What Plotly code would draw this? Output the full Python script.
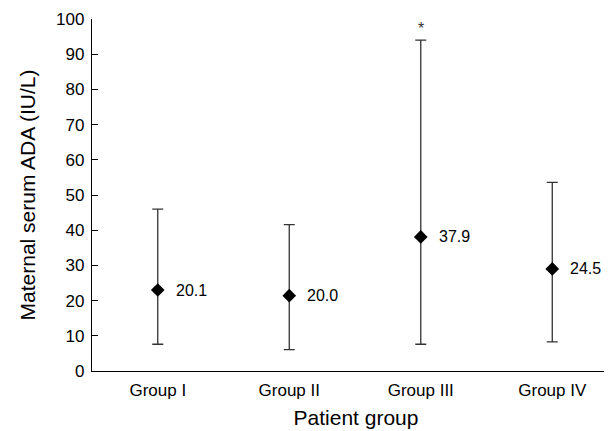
import plotly.graph_objects as go

groups = ["Group I", "Group II", "Group III", "Group IV"]
point_values = [23.0, 21.4, 38.1, 29.0]
upper_values = [46.0, 41.6, 94.0, 53.6]
lower_values = [7.6, 6.1, 7.6, 8.3]
value_labels = ["20.1", "20.0", "37.9", "24.5"]
star_group = "Group III"
star_value = 97.2
y_ticks = [0, 10, 20, 30, 40, 50, 60, 70, 80, 90, 100]

FONT = "Liberation Sans, Arial, sans-serif"

fig = go.Figure()
fig.add_trace(go.Scatter(
    x=groups, y=point_values, mode="markers",
    marker=dict(symbol="diamond", size=10.5, color="black"),
    error_y=dict(type="data", symmetric=False,
                 array=[u - p for u, p in zip(upper_values, point_values)],
                 arrayminus=[p - l for p, l in zip(point_values, lower_values)],
                 color="#333333", thickness=1.3, width=5.5),
    showlegend=False, hoverinfo="skip",
))
for g, p, t in zip(groups, point_values, value_labels):
    fig.add_annotation(x=g, y=p, text=t, showarrow=False, xanchor="left",
                       yanchor="middle", xshift=16, font=dict(family=FONT, size=16, color="black"))
fig.add_annotation(x=star_group, y=star_value, text="*", showarrow=False,
                   yanchor="middle", font=dict(family=FONT, size=16, color="#333333"))

fig.update_layout(
    width=612, height=431,
    margin=dict(l=84, r=0, t=11, b=68),
    paper_bgcolor="white", plot_bgcolor="white",
    font=dict(family=FONT, color="black"),
    xaxis=dict(type="category", range=[-0.5, 3.515], showline=True, linecolor="black",
               linewidth=1.3, ticks="", showgrid=False, zeroline=False, automargin=False,
               ticklabelstandoff=3,
               tickfont=dict(size=17), title=dict(text="Patient group", font=dict(size=21), standoff=11)),
    yaxis=dict(range=[0, 100], tickvals=y_ticks, showline=True, linecolor="black",
               linewidth=1.3, ticks="inside", ticklen=6, tickcolor="black", showgrid=False,
               zeroline=False, tickfont=dict(size=17), automargin=False, ticklabelstandoff=3,
               title=dict(text="Maternal serum ADA (IU/L)", font=dict(size=21), standoff=14)),
)
fig.write_html("out.html")
